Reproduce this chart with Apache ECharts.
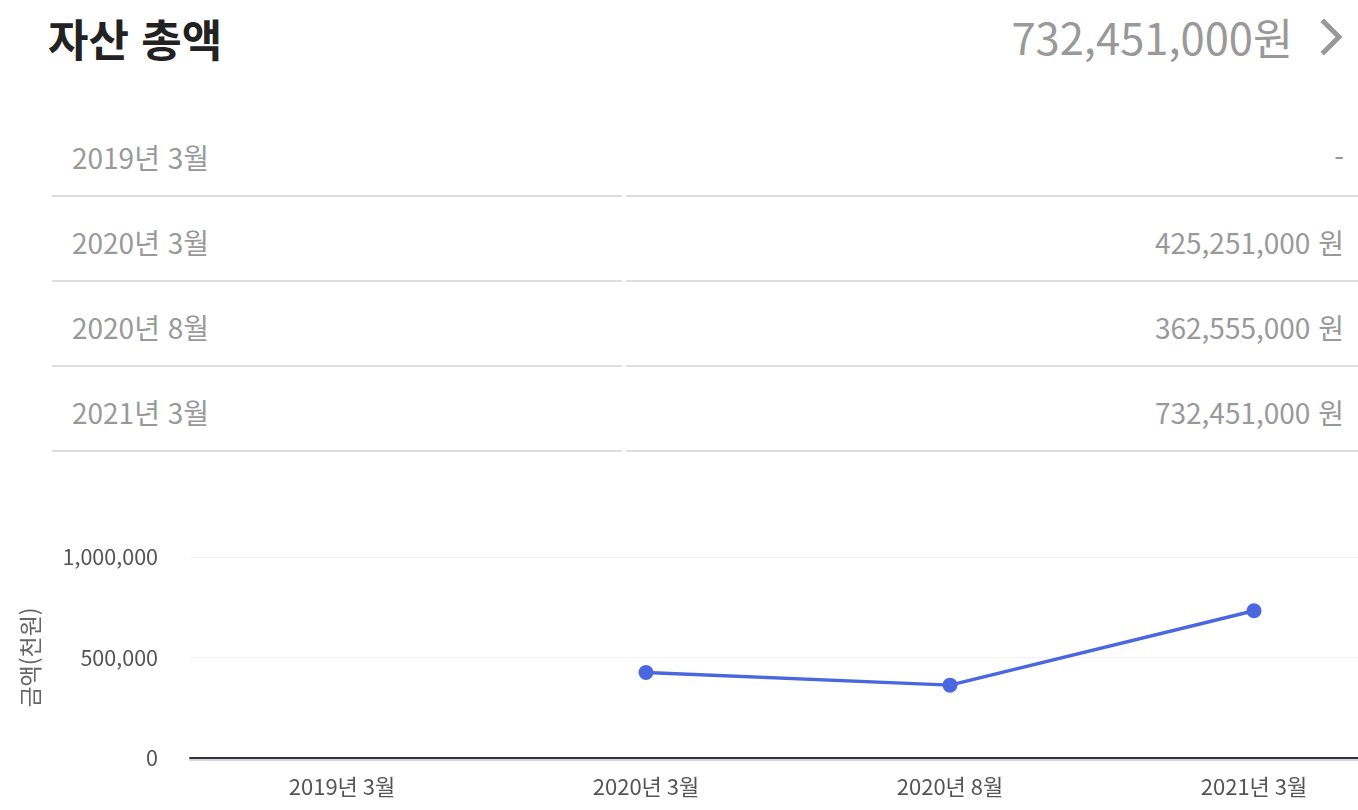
<!DOCTYPE html>
<html lang="ko">
<head>
<meta charset="utf-8">
<script src="https://cdn.jsdelivr.net/npm/echarts@6/dist/echarts.min.js"></script>
<style>
  html, body { margin:0; padding:0; background:#fff; width:1358px; height:810px; overflow:hidden; font-family:"Noto Sans CJK KR","Noto Sans",sans-serif; }
  #title { position:absolute; left:48px; top:15px; font-size:44px; line-height:46px; font-weight:700; color:#222; }
  #total { position:absolute; right:65px; top:14px; font-size:43.5px; line-height:46px; color:#999; white-space:nowrap; }
  #chev { position:absolute; left:1318px; top:18px; }
  #table { position:absolute; left:52px; top:112px; width:1400px; }
  .row { display:flex; height:85px; }
  .cell { box-sizing:border-box; height:85px; border-bottom:2px solid #ddd; font-size:28px; line-height:36px; padding-top:27px; color:#999; white-space:nowrap; }
  .lc { width:570px; padding-left:20px; }
  .rc { width:732px; margin-left:4px; text-align:right; padding-right:14px; }
  #chart { position:absolute; left:0; top:470px; width:1420px; height:340px; }
</style>
</head>
<body>
<div id="title"></div>
<div id="total"></div>
<svg id="chev" width="30" height="38" viewBox="0 0 30 38"><polyline points="6,4 21,19 6,34" fill="none" stroke="#999" stroke-width="5" stroke-linecap="square"/></svg>
<div id="table"></div>
<div id="chart"></div>
<script>
const titleText = "자산 총액";
const totalText = "732,451,000원";
const categories = ["2019년 3월", "2020년 3월", "2020년 8월", "2021년 3월"];
const tableValues = ["-", "425,251,000 원", "362,555,000 원", "732,451,000 원"];
const seriesValues = [null, 425251, 362555, 732451]; // 천원
const yAxisName = "금액(천원)";
const yTicks = { min: 0, max: 1000000, interval: 500000 };

document.getElementById('title').textContent = titleText;
document.getElementById('total').textContent = totalText;
const tbl = document.getElementById('table');
categories.forEach((c, i) => {
  const r = document.createElement('div'); r.className = 'row';
  const a = document.createElement('div'); a.className = 'cell lc'; a.textContent = c;
  const b = document.createElement('div'); b.className = 'cell rc'; b.textContent = tableValues[i];
  r.appendChild(a); r.appendChild(b); tbl.appendChild(r);
});

const font = '"Noto Sans CJK KR","Noto Sans",sans-serif';
const chart = echarts.init(document.getElementById('chart'), null, { renderer: 'canvas' });
chart.setOption({
  animation: false,
  textStyle: { fontFamily: font },
  grid: { left: 190, right: 14, top: 87, bottom: 52 },
  xAxis: [{
    type: 'category', data: categories, boundaryGap: true,
    axisLine: { lineStyle: { color: '#333', width: 2 } },
    axisTick: { show: false },
    axisLabel: { color: '#555', fontSize: 22, margin: 18, fontFamily: font },
    splitLine: { show: false }
  }, {
    type: 'category', data: categories, position: 'bottom', offset: 2,
    axisLine: { lineStyle: { color: '#ccd6eb', width: 2 } },
    axisTick: { show: false }, axisLabel: { show: false }
  }],
  yAxis: {
    type: 'value', min: yTicks.min, max: yTicks.max, interval: yTicks.interval,
    name: yAxisName, nameLocation: 'middle', nameRotate: 90, nameGap: 148,
    nameTextStyle: { color: '#666', fontSize: 23, fontFamily: font },
    axisLine: { show: false }, axisTick: { show: false },
    axisLabel: { color: '#555', fontSize: 21.5, margin: 32, fontFamily: font,
      formatter: v => v.toLocaleString('en-US') },
    splitLine: { lineStyle: { color: '#f2f2f2', width: 1 } }
  },
  series: [{
    type: 'line', xAxisIndex: 0, data: seriesValues,
    connectNulls: false,
    symbol: 'circle', symbolSize: 15,
    itemStyle: { color: '#4a67e0' },
    lineStyle: { color: '#4a67e0', width: 3.5 }
  }]
});
</script>
</body>
</html>
